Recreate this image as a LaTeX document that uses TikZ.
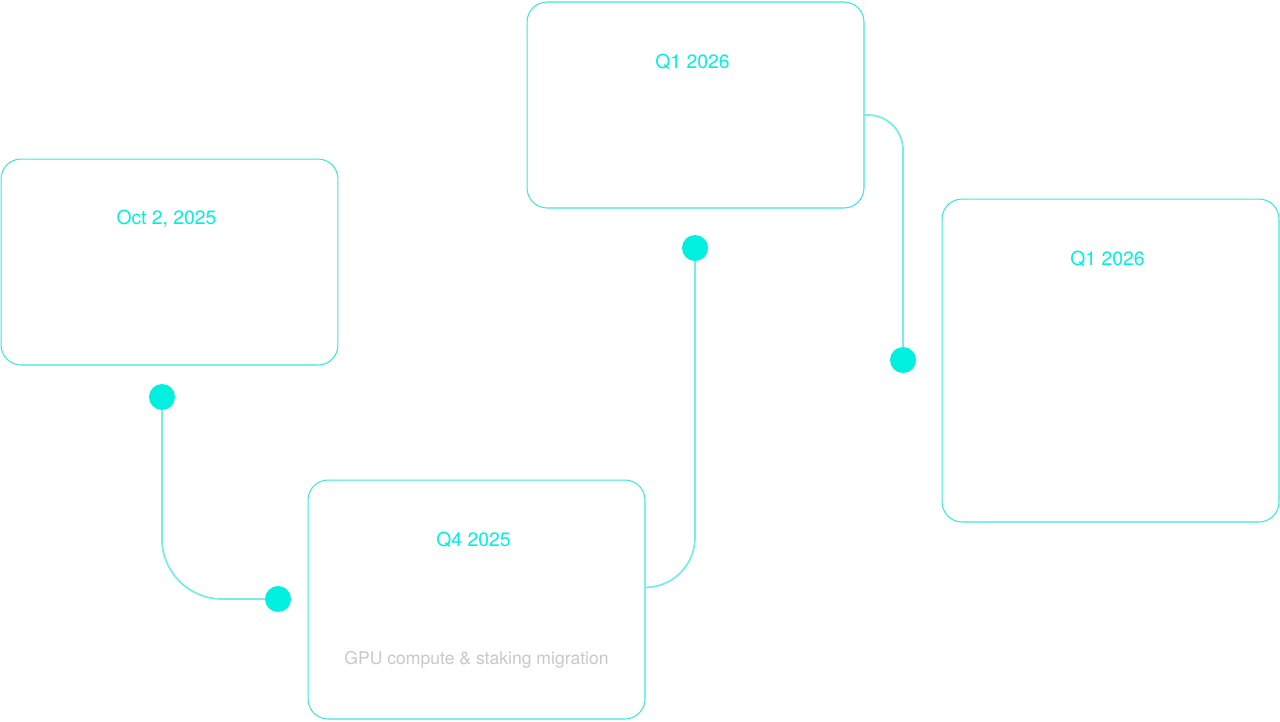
\documentclass[tikz,border=0pt]{standalone}
\usepackage{fontspec}
\setmainfont{TeX Gyre Heros}
\usepackage{tikz}
\usetikzlibrary{positioning}

\definecolor{tealdot}{HTML}{00F0E0}
\definecolor{tealline}{HTML}{3DE6DC}
\definecolor{captgray}{HTML}{C8C8C8}

\tikzset{
	card/.style={draw=tealline, line width=0.6pt, rounded corners=0.4cm,
		minimum width=6.74cm, inner sep=0pt, outer sep=0pt},
	cardtitle/.style={text=tealdot, inner sep=0pt, font=\fontsize{11}{13}\selectfont},
	cardnote/.style={text=captgray, inner sep=0pt, font=\fontsize{10}{12}\selectfont},
	stopdot/.style={circle, fill=tealdot, minimum size=0.52cm, inner sep=0pt, outer sep=0pt},
	link/.style={draw=tealline!70, line width=1pt},
}

\begin{document}
\begin{tikzpicture}[x=0.02cm, y=-0.02cm]
	\useasboundingbox (0,0) rectangle (1280,721);
	% cards
	\node[card, minimum height=4.12cm] (cA) at (169.5,262) {};
	\node[card, minimum height=4.78cm] (cB) at (476.5,599.5) {};
	\node[card, minimum height=4.12cm] (cC) at (695.5,105) {};
	\node[card, minimum height=6.46cm] (cD) at (1110.5,360.5) {};
	\node[cardtitle] (tA) at ([xshift=-0.06cm, yshift=-1.2cm]cA.north) {Oct 2, 2025};
	\node[cardtitle] (tB) at ([xshift=-0.06cm, yshift=-1.2cm]cB.north) {Q4 2025};
	\node[cardtitle] (tC) at ([xshift=-0.06cm, yshift=-1.2cm]cC.north) {Q1 2026};
	\node[cardtitle] (tD) at ([xshift=-0.06cm, yshift=-1.2cm]cD.north) {Q1 2026};
	\node[cardnote] (nB) at ([yshift=-1.21cm]cB.center) {GPU compute \& staking migration};
	% stops
	\node[stopdot] (d1) at (162,397) {};
	\node[stopdot] (d2) at (278,599) {};
	\node[stopdot] (d3) at (695,248) {};
	\node[stopdot] (d4) at (903,360) {};
	% links
	\draw[link, rounded corners=1.2cm] (d1.south) |- (d2.west);
	\draw[link, rounded corners=1cm] ([yshift=0.24cm]cB.east) -| (d3.south);
	\draw[link, rounded corners=0.7cm] ([yshift=-0.2cm]cC.east) -| (d4.north);
\end{tikzpicture}
\end{document}
